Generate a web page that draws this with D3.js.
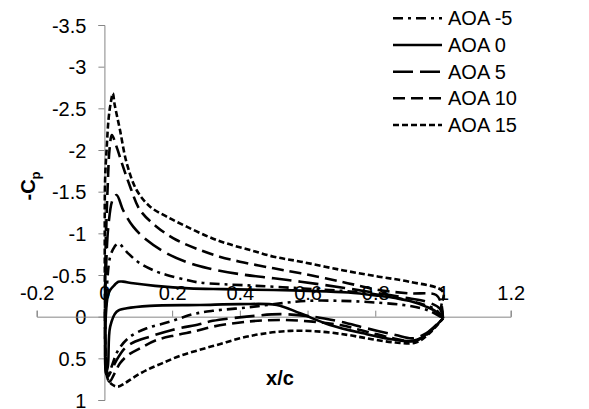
<!DOCTYPE html>
<html><head><meta charset="utf-8">
<script src="https://cdn.jsdelivr.net/npm/d3@7"></script>
<style>html,body{margin:0;padding:0;background:#fff;}svg{display:block;}</style>
</head><body>
<svg id="c" width="589" height="409"></svg>
<script>
// ---- data (x/c, Cp) ----
const seriesNames = ["AOA -5", "AOA 0", "AOA 5", "AOA 10", "AOA 15"];
const xTicks = [-0.2, 0, 0.2, 0.4, 0.6, 0.8, 1, 1.2];
const yTicks = [-3.5, -3, -2.5, -2, -1.5, -1, -0.5, 0, 0.5, 1];

const aoaM5 = [
  [1.0,0.02],[0.98,-0.08],[0.93,-0.16],[0.87,-0.22],[0.8,-0.27],[0.7,-0.31],[0.58,-0.34],[0.45,-0.37],
  [0.35,-0.39],[0.28,-0.41],[0.243,-0.44],[0.184,-0.50],[0.154,-0.54],[0.105,-0.64],[0.07,-0.76],
  [0.041,-0.88],[0.03,-0.84],[0.017,-0.72],[0.008,-0.4],[0.003,0.1],[0.004,0.5],[0.01,0.68],
  [0.017,0.64],[0.041,0.40],[0.076,0.24],[0.125,0.14],[0.194,0.06],[0.262,-0.03],[0.32,-0.07],
  [0.42,-0.11],[0.52,-0.16],[0.6,-0.19],[0.7,-0.19],[0.8,-0.17],[0.9,-0.13],[0.96,-0.07],[1.0,0.02]
];
const aoa0 = [
  [1.0,0.02],[0.98,-0.06],[0.95,-0.12],[0.9,-0.19],[0.863,-0.22],[0.81,-0.25],[0.72,-0.29],[0.6,-0.31],
  [0.5,-0.32],[0.35,-0.33],[0.25,-0.34],[0.15,-0.37],[0.085,-0.40],[0.055,-0.42],[0.041,-0.42],
  [0.03,-0.38],[0.017,-0.32],[0.01,-0.25],[0.004,0.0],[0.002,0.4],[0.004,0.68],[0.01,0.6],
  [0.017,0.12],[0.036,-0.06],[0.066,-0.10],[0.134,-0.13],[0.282,-0.14],[0.4,-0.15],[0.509,-0.14],
  [0.578,-0.04],[0.666,0.10],[0.764,0.20],[0.863,0.28],[0.92,0.29],[0.96,0.18],[1.0,0.02]
];
const aoa5 = [
  [1.0,0.02],[0.99,-0.1],[0.95,-0.18],[0.9,-0.22],[0.81,-0.28],[0.7,-0.35],[0.58,-0.42],[0.5,-0.46],
  [0.4,-0.51],[0.306,-0.58],[0.253,-0.64],[0.184,-0.76],[0.125,-0.92],[0.085,-1.08],[0.055,-1.28],
  [0.036,-1.46],[0.024,-1.40],[0.012,-1.1],[0.005,-0.6],[0.002,0.0],[0.004,0.5],[0.01,0.72],
  [0.02,0.65],[0.036,0.52],[0.06,0.38],[0.085,0.31],[0.134,0.24],[0.2,0.16],[0.28,0.09],[0.32,0.05],
  [0.42,0.0],[0.52,-0.03],[0.616,0.0],[0.696,0.06],[0.775,0.14],[0.86,0.22],[0.91,0.26],[0.95,0.2],[1.0,0.02]
];
const aoa10 = [
  [1.0,0.02],[0.995,-0.15],[0.98,-0.26],[0.9,-0.28],[0.81,-0.32],[0.7,-0.42],[0.58,-0.52],[0.5,-0.58],
  [0.4,-0.66],[0.34,-0.72],[0.282,-0.80],[0.213,-0.92],[0.154,-1.08],[0.105,-1.28],[0.076,-1.56],
  [0.055,-1.8],[0.035,-2.05],[0.022,-2.18],[0.015,-2.0],[0.01,-1.6],[0.005,-1.0],[0.002,-0.3],
  [0.002,0.3],[0.006,0.7],[0.015,0.78],[0.03,0.68],[0.046,0.56],[0.07,0.46],[0.105,0.38],[0.154,0.28],
  [0.213,0.22],[0.273,0.17],[0.32,0.12],[0.42,0.06],[0.52,0.04],[0.616,0.06],[0.696,0.10],[0.775,0.18],
  [0.853,0.26],[0.91,0.29],[0.95,0.22],[1.0,0.02]
];
const aoa15 = [
  [1.0,0.02],[0.995,-0.12],[1.0,-0.30],[0.9,-0.42],[0.81,-0.48],[0.7,-0.56],[0.58,-0.66],[0.5,-0.72],
  [0.43,-0.80],[0.36,-0.88],[0.307,-0.96],[0.243,-1.08],[0.184,-1.20],[0.135,-1.32],[0.095,-1.52],
  [0.066,-1.84],[0.046,-2.24],[0.03,-2.55],[0.025,-2.68],[0.018,-2.55],[0.012,-2.36],[0.007,-2.04],
  [0.002,-1.64],[0.001,-1.0],[0.002,0.0],[0.004,0.5],[0.01,0.75],[0.025,0.82],[0.04,0.84],
  [0.06,0.80],[0.09,0.72],[0.125,0.64],[0.17,0.56],[0.223,0.47],[0.28,0.40],[0.34,0.33],[0.4,0.26],
  [0.46,0.21],[0.55,0.17],[0.64,0.18],[0.72,0.22],[0.79,0.27],[0.86,0.31],[0.92,0.31],[0.96,0.20],[1.0,0.02]
];
const seriesData = [aoaM5, aoa0, aoa5, aoa10, aoa15];
const dashes = ["10,5,3,5", null, "20,7", "12,6", "6,3"];

// ---- drawing ----
const svg = d3.select("#c");
const x = d3.scaleLinear().domain([-0.2, 1.2]).range([36.7, 510.7]);
const y = d3.scaleLinear().domain([-3.5, 1]).range([25, 400]);
const font = "'Liberation Sans', Arial, sans-serif";
const axisCol = "#868686";

// y axis at x=0
const yAxis = d3.axisLeft(y).tickValues(yTicks).tickSize(6).tickFormat(d3.format("~g"));
const gy = svg.append("g").attr("transform", `translate(${x(0)},0)`).call(yAxis);
gy.select(".domain").attr("stroke", axisCol);
gy.selectAll(".tick line").attr("stroke", axisCol);
gy.selectAll(".tick text").attr("font-family", font).attr("font-size", 20).attr("fill", "#000")
  .attr("x", -18).attr("dy", "0.35em").text(d => d3.format("~g")(d).replace("−", "-"));

// x axis at y=0, ticks/labels above
const xAxis = d3.axisTop(x).tickValues(xTicks).tickSize(6).tickFormat(d3.format("~g"));
const gx = svg.append("g").attr("transform", `translate(0,${y(0)})`).call(xAxis);
gx.select(".domain").attr("stroke", axisCol);
gx.selectAll(".tick line").attr("stroke", axisCol);
gx.selectAll(".tick text").attr("font-family", font).attr("font-size", 20).attr("fill", "#000")
  .attr("y", -17).attr("dy", "0").text(d => d3.format("~g")(d).replace("−", "-"));

// series
const line = d3.line().x(d => x(d[0])).y(d => y(d[1])).curve(d3.curveCatmullRom.alpha(0.5));
seriesData.forEach((s, i) => {
  svg.append("path").datum(s).attr("d", line).attr("fill", "none").attr("stroke", "#000")
    .attr("stroke-width", 2.6).attr("stroke-dasharray", dashes[i]).attr("stroke-linejoin", "round");
});

// titles
svg.append("text").attr("x", 280).attr("y", 385).attr("text-anchor", "middle")
  .attr("font-family", font).attr("font-size", 20).attr("font-weight", "bold").text("x/c");
const yt = svg.append("text").attr("transform", "translate(35,186) rotate(-90)").attr("text-anchor", "middle")
  .attr("font-family", font).attr("font-size", 20).attr("font-weight", "bold");
yt.append("tspan").text("-C");
yt.append("tspan").attr("font-size", 13).attr("dy", 5).text("p");

// legend
const legY = [18.3, 45, 71.7, 98.3, 125];
seriesNames.forEach((n, i) => {
  svg.append("line").attr("x1", 393).attr("x2", 442).attr("y1", legY[i]).attr("y2", legY[i])
    .attr("stroke", "#000").attr("stroke-width", 2.6).attr("stroke-dasharray", dashes[i]);
  svg.append("text").attr("x", 448).attr("y", legY[i]).attr("dy", "0.35em")
    .attr("font-family", font).attr("font-size", 20).attr("fill", "#000").text(n);
});
</script>
</body></html>
